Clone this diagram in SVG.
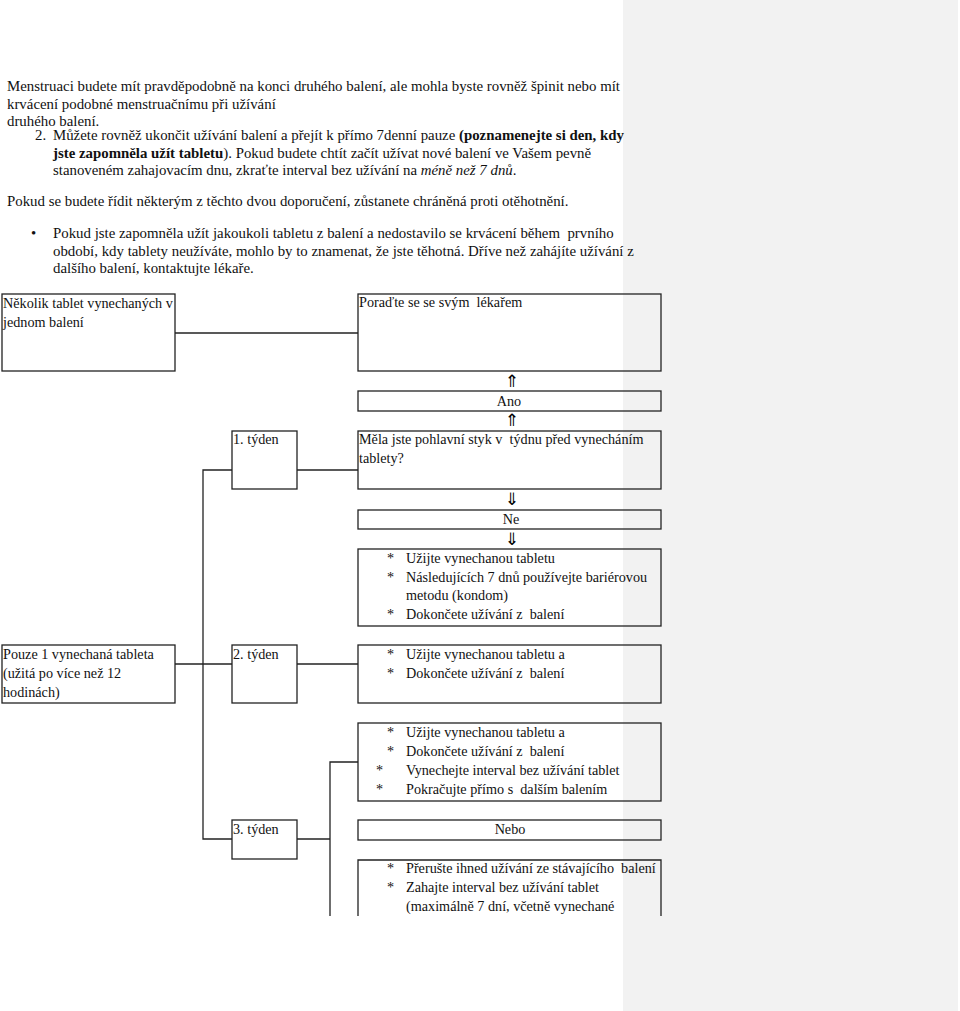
<svg xmlns="http://www.w3.org/2000/svg" width="960" height="1011" viewBox="0 0 960 1011">
<style>
text{font-family:"Liberation Serif","Times New Roman",serif;font-size:14.2px;fill:#111;white-space:pre}
.p{font-size:14.85px}
.b{font-weight:bold}
.i{font-style:italic}
.box{fill:none;stroke:#222;stroke-width:1.3}
.ln{stroke:#222;stroke-width:1.3;fill:none}
.ar{font-family:"DejaVu Sans",sans-serif;font-size:17px;text-anchor:middle;fill:#000}
.c{text-anchor:middle}
</style>
<rect x="623" y="0" width="335" height="1011" fill="#f2f2f2"/>
<g id="intro">
<text class="p" x="7" y="91">Menstruaci budete mít pravděpodobně na konci druhého balení, ale mohla byste rovněž špinit nebo mít</text>
<text class="p" x="7" y="109">krvácení podobné menstruačnímu při užívání</text>
<text class="p" x="7" y="126">druhého balení.</text>
<text class="p" x="35" y="140">2.</text>
<text class="p" x="53" y="140">Můžete rovněž ukončit užívání balení a přejít k přímo 7denní pauze <tspan class="b">(poznamenejte si den, kdy</tspan></text>
<text class="p" x="53" y="158"><tspan class="b">jste zapomněla užít tabletu</tspan>). Pokud budete chtít začít užívat nové balení ve Vašem pevně</text>
<text class="p" x="53" y="175">stanoveném zahajovacím dnu, zkraťte interval bez užívání na <tspan class="i">méně než 7 dnů</tspan>.</text>
<text class="p" x="7" y="206">Pokud se budete řídit některým z těchto dvou doporučení, zůstanete chráněná proti otěhotnění.</text>
<text class="p" x="31" y="238">•</text>
<text class="p" x="53" y="238">Pokud jste zapomněla užít jakoukoli tabletu z balení a nedostavilo se krvácení během  prvního</text>
<text class="p" x="53" y="256">období, kdy tablety neužíváte, mohlo by to znamenat, že jste těhotná. Dříve než zahájíte užívání z</text>
<text class="p" x="53" y="273">dalšího balení, kontaktujte lékaře.</text>
</g>
<g id="connectors">
<line class="ln" x1="175" y1="333" x2="358" y2="333"/>
<polyline class="ln" points="232,470 203,470 203,839 232,839"/>
<line class="ln" x1="297" y1="470" x2="358" y2="470"/>
<line class="ln" x1="175" y1="664" x2="232" y2="664"/>
<line class="ln" x1="297" y1="664" x2="358" y2="664"/>
<line class="ln" x1="297" y1="839" x2="330" y2="839"/>
<polyline class="ln" points="358,762 330,762 330,916"/>
<text class="ar" x="512" y="387">⇑</text>
<text class="ar" x="512" y="426">⇑</text>
<text class="ar" x="512" y="505">⇓</text>
<text class="ar" x="512" y="545">⇓</text>
</g>
<g id="n-several">
<rect class="box" x="2" y="294" width="173" height="77"/>
<text x="3" y="308">Několik tablet vynechaných v</text>
<text x="3" y="327">jednom balení</text>
</g>
<g id="n-doctor">
<rect class="box" x="358" y="294" width="303" height="77"/>
<text x="359" y="307">Poraďte se se svým  lékařem</text>
</g>
<g id="n-ano">
<rect class="box" x="358" y="391" width="303" height="20"/>
<text class="c" x="509" y="406">Ano</text>
</g>
<g id="n-week1">
<rect class="box" x="232" y="431" width="65" height="58"/>
<text x="233" y="444">1. týden</text>
</g>
<g id="n-sex">
<rect class="box" x="358" y="431" width="303" height="58"/>
<text x="359" y="444">Měla jste pohlavní styk v  týdnu před vynecháním</text>
<text x="359" y="463">tablety?</text>
</g>
<g id="n-ne">
<rect class="box" x="358" y="510" width="303" height="19"/>
<text class="c" x="511" y="524">Ne</text>
</g>
<g id="n-w1-actions">
<rect class="box" x="358" y="549" width="303" height="77"/>
<text x="387" y="563">*</text><text x="406" y="563">Užijte vynechanou tabletu</text>
<text x="387" y="582">*</text><text x="406" y="582">Následujících 7 dnů používejte bariérovou</text>
<text x="406" y="600">metodu (kondom)</text>
<text x="387" y="619">*</text><text x="406" y="619">Dokončete užívání z  balení</text>
</g>
<g id="n-single">
<rect class="box" x="2" y="645" width="173" height="58"/>
<text x="3" y="659">Pouze 1 vynechaná tableta</text>
<text x="3" y="678">(užitá po více než 12</text>
<text x="3" y="697">hodinách)</text>
</g>
<g id="n-week2">
<rect class="box" x="232" y="645" width="65" height="58"/>
<text x="233" y="659">2. týden</text>
</g>
<g id="n-w2-actions">
<rect class="box" x="358" y="645" width="303" height="58"/>
<text x="387" y="659">*</text><text x="406" y="659">Užijte vynechanou tabletu a</text>
<text x="387" y="678">*</text><text x="406" y="678">Dokončete užívání z  balení</text>
</g>
<g id="n-w3-option1">
<rect class="box" x="358" y="723" width="303" height="78"/>
<text x="387" y="737">*</text><text x="406" y="737">Užijte vynechanou tabletu a</text>
<text x="387" y="756">*</text><text x="406" y="756">Dokončete užívání z  balení</text>
<text x="376" y="775">*</text><text x="406" y="775">Vynechejte interval bez užívání tablet</text>
<text x="376" y="794">*</text><text x="406" y="794">Pokračujte přímo s  dalším balením</text>
</g>
<g id="n-week3">
<rect class="box" x="232" y="820" width="65" height="39"/>
<text x="233" y="834">3. týden</text>
</g>
<g id="n-nebo">
<rect class="box" x="358" y="820" width="303" height="20"/>
<text class="c" x="510" y="834">Nebo</text>
</g>
<g id="n-w3-option2">
<polyline class="box" points="358,916 358,860 661,860 661,916"/>
<text x="387" y="873">*</text><text x="406" y="873">Přerušte ihned užívání ze stávajícího  balení</text>
<text x="387" y="892">*</text><text x="406" y="892">Zahajte interval bez užívání tablet</text>
<text x="406" y="911">(maximálně 7 dní, včetně vynechané</text>
</g>
</svg>
